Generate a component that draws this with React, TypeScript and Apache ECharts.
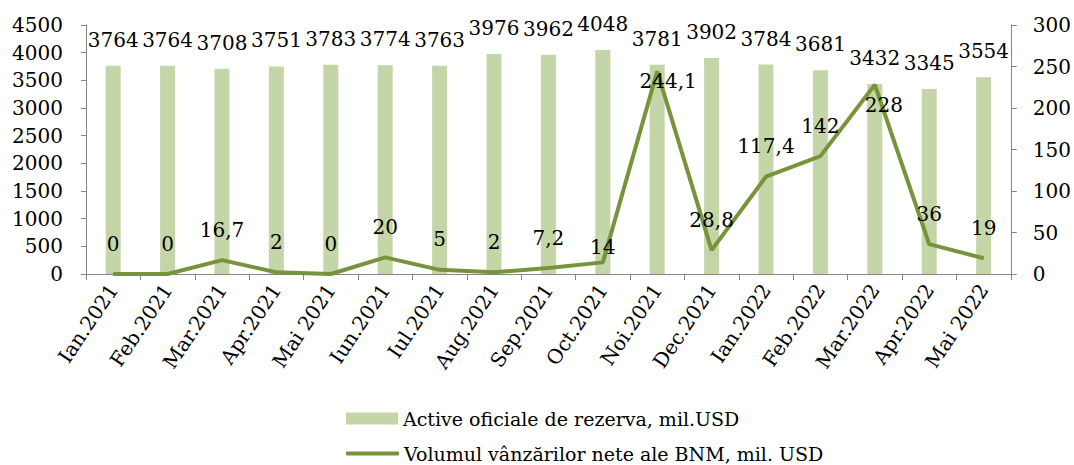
import React, { useEffect, useRef } from "react";
import * as echarts from "echarts";

const categories = [
  "Ian.2021", "Feb.2021", "Mar.2021", "Apr.2021", "Mai 2021", "Iun.2021",
  "Iul.2021", "Aug.2021", "Sep.2021", "Oct.2021", "Noi.2021", "Dec.2021",
  "Ian.2022", "Feb.2022", "Mar.2022", "Apr.2022", "Mai 2022",
];
const reserves = [3764, 3764, 3708, 3751, 3783, 3774, 3763, 3976, 3962, 4048, 3781, 3902, 3784, 3681, 3432, 3345, 3554];
const sales = [0, 0, 16.7, 2, 0, 20, 5, 2, 7.2, 14, 244.1, 28.8, 117.4, 142, 228, 36, 19];

const barName = "Active oficiale de rezerva, mil.USD";
const lineName = "Volumul vânzărilor nete ale BNM, mil. USD";

// label offsets for the line series (style only)
const lineLabelOffsets: Record<number, [number, number]> = {
  9: [0, 15],
  10: [11, 40],
  14: [9, 51],
};

const FONT = "DejaVu Serif";
const AXIS_COLOR = "#868686";
const BAR_COLOR = "#c4d6a8";
const LINE_COLOR = "#77933c";

export default function App() {
  const ref = useRef<HTMLDivElement>(null);
  useEffect(() => {
    document.body.style.margin = "0";
    const chart = echarts.init(ref.current!, null, { renderer: "svg" });
    const lineData = sales.map((v, i) =>
      lineLabelOffsets[i] ? { value: v, label: { offset: lineLabelOffsets[i] } } : { value: v }
    );
    const legendText = { fontFamily: FONT, fontSize: 19, color: "#000" };
    chart.setOption({
      animation: false,
      textStyle: { fontFamily: FONT },
      grid: { left: 86, right: 63, top: 25, bottom: 191 },
      legend: [
        {
          left: 341,
          top: 404,
          itemWidth: 52,
          itemHeight: 12,
          textStyle: legendText,
          data: [{ name: barName, icon: "rect" }],
        },
        {
          left: 341,
          top: 439,
          itemWidth: 53,
          itemHeight: 4,
          textStyle: legendText,
          data: [{ name: lineName, icon: "roundRect", itemStyle: { color: LINE_COLOR } }],
        },
      ],
      xAxis: {
        type: "category",
        data: categories,
        boundaryGap: true,
        axisLine: { lineStyle: { color: AXIS_COLOR, width: 1 } },
        axisTick: { show: true, length: 6, lineStyle: { color: AXIS_COLOR } },
        axisLabel: {
          rotate: 56,
          interval: 0,
          margin: 12,
          fontFamily: FONT,
          fontSize: 20,
          color: "#000",
        },
      },
      yAxis: [
        {
          type: "value",
          min: 0,
          max: 4500,
          interval: 500,
          axisLine: { show: true, lineStyle: { color: AXIS_COLOR } },
          axisTick: { show: true, length: 5, lineStyle: { color: AXIS_COLOR } },
          splitLine: { show: false },
          axisLabel: {
            margin: 23,
            fontFamily: FONT,
            fontSize: 20,
            color: "#000",
            formatter: (v: number) => String(v),
          },
        },
        {
          type: "value",
          min: 0,
          max: 300,
          interval: 50,
          position: "right",
          axisLine: { show: true, lineStyle: { color: AXIS_COLOR } },
          axisTick: { show: true, length: 6, lineStyle: { color: AXIS_COLOR } },
          splitLine: { show: false },
          axisLabel: {
            margin: 22,
            fontFamily: FONT,
            fontSize: 20,
            color: "#000",
            formatter: (v: number) => String(v),
          },
        },
      ],
      series: [
        {
          name: barName,
          type: "bar",
          data: reserves,
          barWidth: 15,
          itemStyle: { color: BAR_COLOR },
          label: {
            show: true,
            position: "top",
            distance: 16,
            fontFamily: FONT,
            fontSize: 20,
            color: "#000",
            formatter: (p: any) => String(p.value),
          },
        },
        {
          name: lineName,
          type: "line",
          yAxisIndex: 1,
          data: lineData,
          symbol: "circle",
          symbolSize: 1,
          showSymbol: true,
          lineStyle: { color: LINE_COLOR, width: 4 },
          itemStyle: { color: LINE_COLOR },
          z: 5,
          label: {
            show: true,
            position: "top",
            distance: 20,
            fontFamily: FONT,
            fontSize: 20,
            color: "#000",
            formatter: (p: any) => String(p.value).replace(".", ","),
          },
        },
      ],
    });
    return () => chart.dispose();
  }, []);
  return <div ref={ref} style={{ width: 1074, height: 465 }} />;
}
